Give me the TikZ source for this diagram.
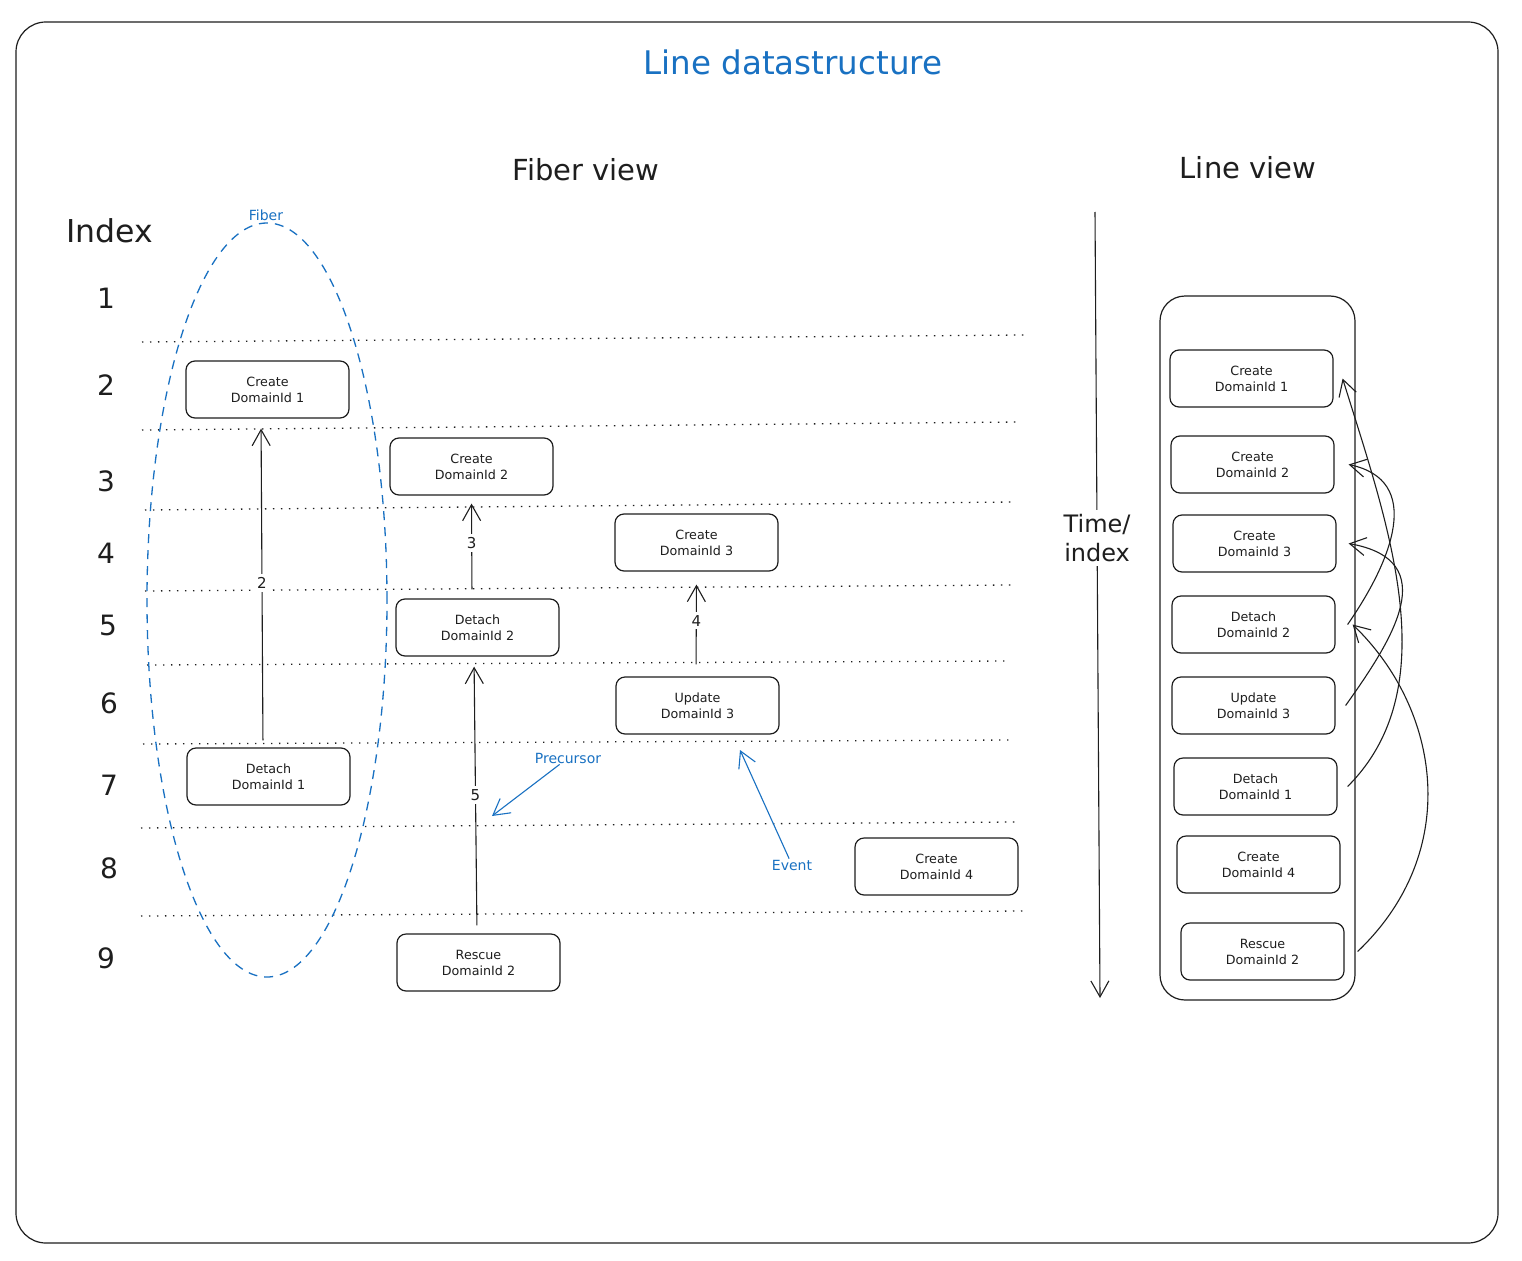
\documentclass[tikz,border=0pt]{standalone}
\usepackage{fontspec}
\setmainfont{DejaVu Sans}
\usetikzlibrary{arrows.meta,shapes.geometric}
\definecolor{ink}{HTML}{1E1E1E}
\definecolor{xblue}{HTML}{1971C2}
\begin{document}
\begin{tikzpicture}[x=1pt,y=-1pt,
  every node/.style={text=ink},
  evbox/.style={draw=ink,line width=1.2pt,rounded corners=9pt,minimum width=163pt,minimum height=57pt,align=center,font=\fontsize{12.7}{16}\selectfont,inner sep=0pt},
  arr/.style={draw=ink,line width=1.1pt,-{Straight Barb[length=16pt,width=18pt,line width=1.1pt]}},
  barr/.style={draw=xblue,line width=1.1pt,-{Straight Barb[length=16pt,width=18pt,line width=1.1pt]}},
  sep/.style={draw=ink,line width=1.3pt,dash pattern=on 1.3pt off 6.7pt},
  idx/.style={font=\fontsize{28}{30}\selectfont},
  head/.style={font=\fontsize{29}{32}\selectfont},
  alab/.style={fill=white,inner sep=3pt,font=\fontsize{15}{16}\selectfont},
  blab/.style={text=xblue,inner sep=1pt,font=\fontsize{14}{15}\selectfont}
]
\useasboundingbox (0,0) rectangle (1522,1260);
\fill[white] (0,0) rectangle (1522,1260);
% frame
\draw[ink,line width=1.2pt,rounded corners=30pt] (16,22) rectangle (1498,1243);

% titles
\node[text=xblue,font=\fontsize{32.5}{34}\selectfont] (title) at (793,62) {Line datastructure};
\node[head] (fview) at (586,170) {Fiber view};
\node[head] (lview) at (1248,168) {Line view};
\node[font=\fontsize{31.5}{33}\selectfont] (index) at (110,231) {Index};

% index numbers
\node[idx] (i1) at (106,298) {1};
\node[idx] (i2) at (106,385) {2};
\node[idx] (i3) at (106,481) {3};
\node[idx] (i4) at (106,553) {4};
\node[idx] (i5) at (108,625) {5};
\node[idx] (i6) at (109,703) {6};
\node[idx] (i7) at (109,785) {7};
\node[idx] (i8) at (109,868) {8};
\node[idx] (i9) at (106,958) {9};

% dotted separators
\draw[sep] (142,342) -- (1025,335);
\draw[sep] (142,430) -- (1018,422);
\draw[sep] (145,510) -- (1013,502);
\draw[sep] (145,591) -- (1013,585);
\draw[sep] (147,665) -- (1010,661);
\draw[sep] (143,744) -- (1013,740);
\draw[sep] (141,828) -- (1018,822);
\draw[sep] (141,916) -- (1025,911);

% fiber ellipse
\node[ellipse,draw=xblue,line width=1.3pt,dash pattern=on 9pt off 7pt,minimum width=240pt,minimum height=754pt,inner sep=0pt] (fiber) at (267,600) {};
\node[blab] (fiberlab) at (266,215) {Fiber};

% fiber view events
\node[evbox] (C1) at (267.5,389.5) {Create\\DomainId 1};
\node[evbox] (C2) at (471.5,466.5) {Create\\DomainId 2};
\node[evbox] (C3) at (696.5,542.5) {Create\\DomainId 3};
\node[evbox] (D2) at (477.5,627.5) {Detach\\DomainId 2};
\node[evbox] (U3) at (697.5,705.5) {Update\\DomainId 3};
\node[evbox] (D1) at (268.5,776.5) {Detach\\DomainId 1};
\node[evbox] (C4) at (936.5,866.5) {Create\\DomainId 4};
\node[evbox] (R2) at (478.5,962.5) {Rescue\\DomainId 2};

% fiber arrows
\draw[arr,shorten <=7pt,shorten >=10pt] ([xshift=-5.5pt]D1.north) -- node[alab,pos=.5]{2} ([xshift=-6.5pt]C1.south);
\draw[arr,shorten <=9pt,shorten >=8pt] ([xshift=-5.5pt]D2.north) -- node[alab,pos=.54]{3} (C2.south);
\draw[arr,shorten <=12pt,shorten >=13pt] ([xshift=-1.5pt]U3.north) -- node[alab,pos=.53]{4} (C3.south);
\draw[arr,shorten <=8pt,shorten >=10pt] ([xshift=-1.5pt]R2.north) -- node[alab,pos=.5]{5} ([xshift=-3.5pt]D2.south);

% annotations
\node[blab] (prec) at (568,758) {Precursor};
\coordinate (precEnd) at (492,816);
\draw[barr] (prec) -- (precEnd);
\node[blab] (event) at (792,865) {Event};
\coordinate (eventEnd) at (740,750);
\draw[barr] (event) -- (eventEnd);

% time axis
\coordinate (tTop) at (1095,212);
\coordinate (tBot) at (1100,998);
\draw[arr] (tTop) -- node[pos=.415,fill=white,align=center,inner sep=4pt,font=\fontsize{24}{29}\selectfont]{Time/\\index} (tBot);

% line view
\node[draw=ink,line width=1.2pt,rounded corners=25pt,minimum width=195pt,minimum height=704pt,inner sep=0pt] (lv) at (1257.5,648) {};
\node[evbox] (L1) at (1251.5,378.5) {Create\\DomainId 1};
\node[evbox] (L2) at (1252.5,464.5) {Create\\DomainId 2};
\node[evbox] (L3) at (1254.5,543.5) {Create\\DomainId 3};
\node[evbox] (L4) at (1253.5,624.5) {Detach\\DomainId 2};
\node[evbox] (L5) at (1253.5,705.5) {Update\\DomainId 3};
\node[evbox] (L6) at (1255.5,786.5) {Detach\\DomainId 1};
\node[evbox] (L7) at (1258.5,864.5) {Create\\DomainId 4};
\node[evbox] (L8) at (1262.5,951.5) {Rescue\\DomainId 2};

% line view links
\draw[arr] ([xshift=10pt]L6.east) .. controls +(100,-100) and +(45,145) .. ([xshift=9pt]L1.east);
\draw[arr] ([xshift=12pt]L4.east) .. controls +(45,-65) and +(75,16) .. ([xshift=14pt]L2.east);
\draw[arr] ([xshift=10pt]L5.east) .. controls +(47,-66) and +(95,17) .. ([xshift=12pt]L3.east);
\draw[arr] ([xshift=13pt]L8.east) .. controls +(105,-100) and +(88,85) .. ([xshift=17pt]L4.east);
\end{tikzpicture}
\end{document}
